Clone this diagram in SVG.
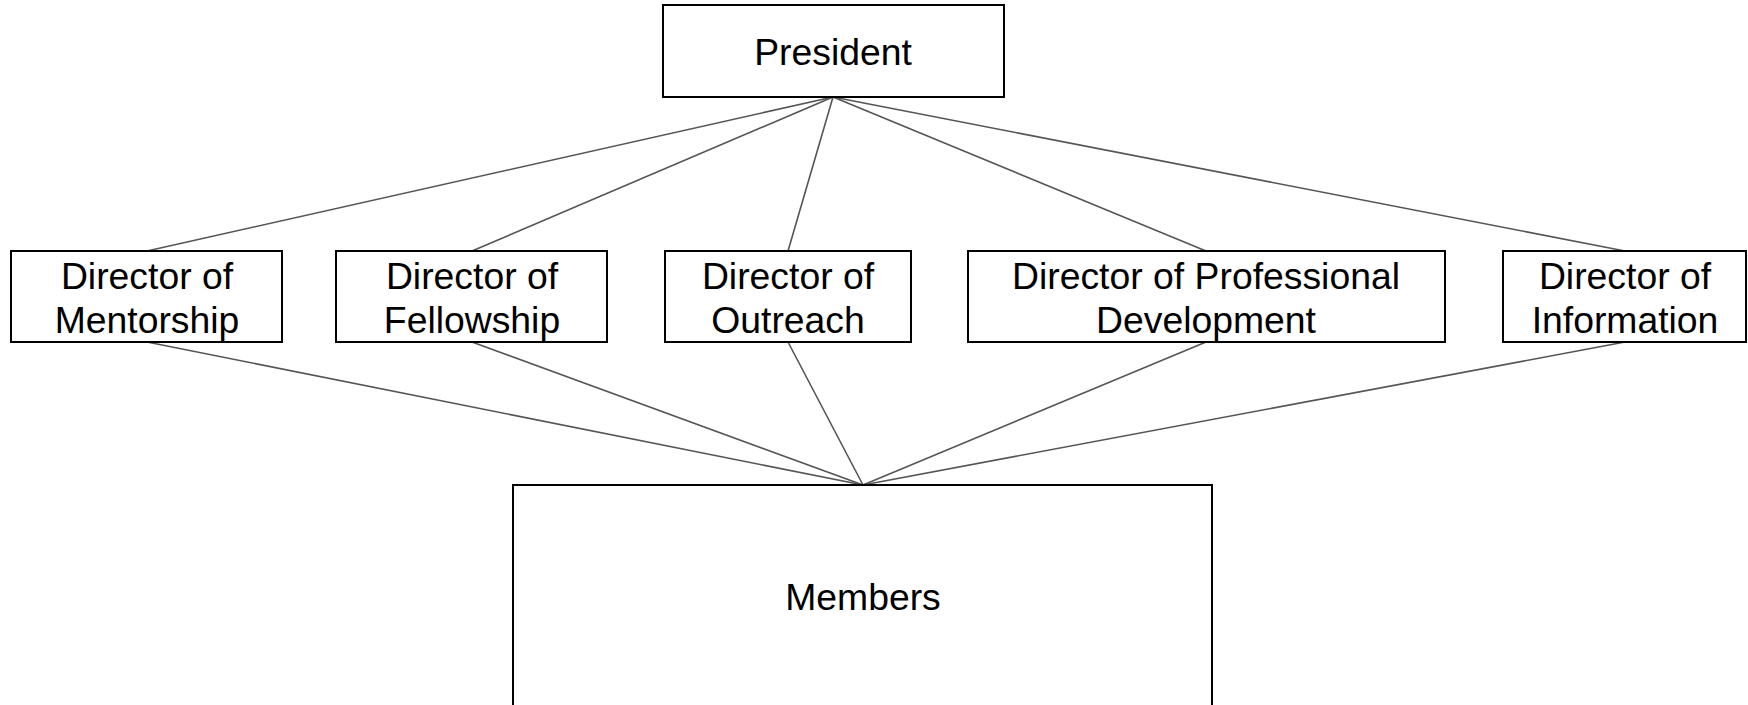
<svg xmlns="http://www.w3.org/2000/svg" width="1748" height="705" viewBox="0 0 1748 705">
<style>
.box{fill:#fff;stroke:#000;stroke-width:2}
.t{font-family:"Liberation Sans",Arial,sans-serif;font-size:37.33px;fill:#000;text-anchor:middle}
.c{stroke:#555;stroke-width:1.6;fill:none}
</style>
<rect width="1748" height="705" fill="#fff"/>
<g id="connectors">
<line class="c" x1="833" y1="97" x2="147" y2="251"/>
<line class="c" x1="833" y1="97" x2="472" y2="251"/>
<line class="c" x1="833" y1="97" x2="788" y2="251"/>
<line class="c" x1="833" y1="97" x2="1206" y2="251"/>
<line class="c" x1="833" y1="97" x2="1625" y2="251"/>
<line class="c" x1="147" y1="342" x2="863" y2="485"/>
<line class="c" x1="472" y1="342" x2="863" y2="485"/>
<line class="c" x1="788" y1="342" x2="863" y2="485"/>
<line class="c" x1="1206" y1="342" x2="863" y2="485"/>
<line class="c" x1="1625" y1="342" x2="863" y2="485"/>
</g>
<g id="president">
<rect class="box" x="663" y="5" width="341" height="92"/>
<text class="t" x="833" y="65">President</text>
</g>
<g id="mentorship">
<rect class="box" x="11" y="251" width="271" height="91"/>
<text class="t" x="147" y="289">Director of</text>
<text class="t" x="147" y="333">Mentorship</text>
</g>
<g id="fellowship">
<rect class="box" x="336" y="251" width="271" height="91"/>
<text class="t" x="472" y="289">Director of</text>
<text class="t" x="472" y="333">Fellowship</text>
</g>
<g id="outreach">
<rect class="box" x="665" y="251" width="246" height="91"/>
<text class="t" x="788" y="289">Director of</text>
<text class="t" x="788" y="333">Outreach</text>
</g>
<g id="profdev">
<rect class="box" x="968" y="251" width="477" height="91"/>
<text class="t" x="1206" y="289">Director of Professional</text>
<text class="t" x="1206" y="333">Development</text>
</g>
<g id="information">
<rect class="box" x="1503" y="251" width="243" height="91"/>
<text class="t" x="1625" y="289">Director of</text>
<text class="t" x="1625" y="333">Information</text>
</g>
<g id="members">
<rect class="box" x="513" y="485" width="699" height="240"/>
<text class="t" x="863" y="610">Members</text>
</g>
</svg>
